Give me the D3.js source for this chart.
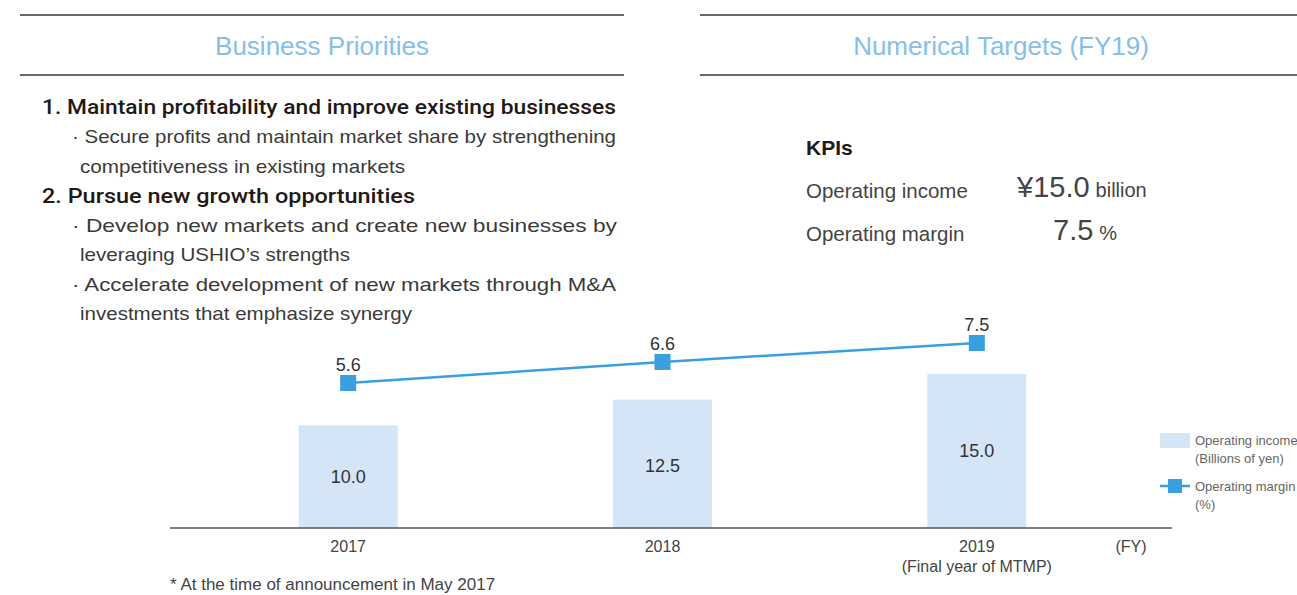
<!DOCTYPE html>
<html>
<head>
<meta charset="utf-8">
<script src="https://cdn.jsdelivr.net/npm/d3@7"></script>
<style>
  html, body { margin: 0; padding: 0; background: #fff; }
  svg { display: block; font-family: "Liberation Sans", Arial, Helvetica, sans-serif; }
</style>
</head>
<body>
<svg id="chart" width="1297" height="595"></svg>
<script>
// ---- data ----
const years = ["2017", "2018", "2019"];
const yearNotes = ["", "", "(Final year of MTMP)"];
const operatingIncome = [10.0, 12.5, 15.0];   // billions of yen
const operatingMargin = [5.6, 6.6, 7.5];      // %
const incomeLabels = ["10.0", "12.5", "15.0"];
const marginLabels = ["5.6", "6.6", "7.5"];

const sectionTitles = ["Business Priorities", "Numerical Targets (FY19)"];
const priorityLines = [
  "1. Maintain profitability and improve existing businesses",
  "\u00B7 Secure profits and maintain market share by strengthening",
  "competitiveness in existing markets",
  "2. Pursue new growth opportunities",
  "\u00B7 Develop new markets and create new businesses by",
  "leveraging USHIO\u2019s strengths",
  "\u00B7 Accelerate development of new markets through M&A",
  "investments that emphasize synergy"
];
const kpiNames = ["Operating income", "Operating margin"];
const kpiValues = ["\u00A515.0", "7.5"];
const kpiUnits = ["billion", "%"];
const legendLabels = [["Operating income", "(Billions of yen)"], ["Operating margin", "(%)"]];
const footnote = "* At the time of announcement in May 2017";
const axisUnit = "(FY)";

// ---- styles ----
const barColor = "#d3e5f6";
const lineColor = "#3a9fdf";
const titleColor = "#86c0ea";
const textDark = "#231815";
const textBody = "#3a3a3a";

const svg = d3.select("#chart");

// ---- section headers ----
const headers = [
  {x1: 20, x2: 624, cx: 322},
  {x1: 700, x2: 1297, cx: 1001}
];
headers.forEach((h, i) => {
  [15, 75].forEach(y => {
    svg.append("line").attr("x1", h.x1).attr("x2", h.x2).attr("y1", y).attr("y2", y)
      .attr("stroke", "#3b3533").attr("stroke-width", 1.6);
  });
  svg.append("text").attr("x", h.cx).attr("y", 46).attr("dy", "0.35em")
    .attr("text-anchor", "middle").attr("font-size", 26).attr("fill", titleColor)
    .text(sectionTitles[i]);
});

// ---- business priorities text ----
const lineLayout = [
  {x: 42, cy: 107, len: 574, bold: true},
  {x: 72, cy: 137, len: 544},
  {x: 80, cy: 167, len: 325},
  {x: 42, cy: 196, len: 373, bold: true},
  {x: 72, cy: 226, len: 545},
  {x: 80, cy: 255, len: 270},
  {x: 72, cy: 285, len: 544},
  {x: 80, cy: 314, len: 332}
];
priorityLines.forEach((t, i) => {
  const L = lineLayout[i];
  svg.append("text").attr("x", L.x).attr("y", L.cy).attr("dy", "0.35em")
    .attr("font-family", L.bold ? "Roboto, 'Liberation Sans', Arial, sans-serif" : null)
    .attr("font-size", L.bold ? 20 : 18.5)
    .attr("font-weight", L.bold ? 500 : "normal")
    .attr("fill", L.bold ? textDark : textBody)
    .attr("textLength", L.len).attr("lengthAdjust", "spacingAndGlyphs")
    .text(t);
});

// ---- KPIs ----
svg.append("text").attr("x", 806).attr("y", 148).attr("dy", "0.35em")
  .attr("font-size", 21).attr("font-weight", "bold").attr("fill", textDark).text("KPIs");
const kpiRows = [
  {cy: 191, vx: 1017},
  {cy: 234, vx: 1053}
];
kpiNames.forEach((n, i) => {
  const r = kpiRows[i];
  svg.append("text").attr("x", 806).attr("y", r.cy).attr("dy", "0.35em")
    .attr("font-size", 20.5).attr("fill", "#444").text(n);
  const t = svg.append("text").attr("x", r.vx).attr("y", r.cy).attr("dy", "0.35em").attr("fill", "#444");
  t.append("tspan").attr("font-size", 29).text(kpiValues[i]);
  t.append("tspan").attr("font-size", 20).attr("dx", 6).text(kpiUnits[i]);
});

// ---- chart ----
const x = d3.scaleBand().domain(years).range([191, 1134]).paddingInner(0.685).paddingOuter(0.3425);
const yIncome = d3.scaleLinear().domain([0, 15]).range([528, 374]);
const yMargin = d3.scaleLinear().domain([5.6, 7.5]).range([383, 343]);
const cx = d => x(d) + x.bandwidth() / 2;

// bars
svg.selectAll("rect.bar").data(years).enter().append("rect").attr("class", "bar")
  .attr("x", d => x(d)).attr("width", x.bandwidth())
  .attr("y", (d, i) => yIncome(operatingIncome[i]))
  .attr("height", (d, i) => yIncome(0) - yIncome(operatingIncome[i]))
  .attr("fill", barColor);

svg.selectAll("text.barlab").data(years).enter().append("text").attr("class", "barlab")
  .attr("x", d => cx(d))
  .attr("y", (d, i) => (yIncome(0) + yIncome(operatingIncome[i])) / 2 + (i === 1 ? 2 : 0))
  .attr("dy", "0.35em").attr("text-anchor", "middle").attr("font-size", 18).attr("fill", "#333")
  .text((d, i) => incomeLabels[i]);

// axis
const axis = d3.axisBottom(x).tickSize(0).tickPadding(0).tickFormat(() => "");
const gAxis = svg.append("g").attr("transform", `translate(0,${yIncome(0)})`).call(axis);
gAxis.select(".domain").remove();
svg.append("line").attr("x1", 170).attr("x2", 1172).attr("y1", yIncome(0)).attr("y2", yIncome(0))
  .attr("stroke", "#555").attr("stroke-width", 1.6);
gAxis.selectAll(".tick").each(function(d, i) {
  const g = d3.select(this);
  g.append("text").attr("y", 18).attr("dy", "0.35em").attr("text-anchor", "middle")
    .attr("font-size", 16).attr("fill", "#444").text(d);
  if (yearNotes[i]) {
    g.append("text").attr("y", 38).attr("dy", "0.35em").attr("text-anchor", "middle")
      .attr("font-size", 16).attr("fill", "#444").text(yearNotes[i]);
  }
});
svg.append("text").attr("x", 1131).attr("y", yIncome(0) + 18).attr("dy", "0.35em")
  .attr("text-anchor", "middle").attr("font-size", 16).attr("fill", "#444").text(axisUnit);

// line
const line = d3.line().x((d, i) => cx(years[i])).y(d => yMargin(d));
svg.append("path").datum(operatingMargin).attr("d", line)
  .attr("fill", "none").attr("stroke", lineColor).attr("stroke-width", 2.5);
const ms = 16;
svg.selectAll("rect.mk").data(operatingMargin).enter().append("rect").attr("class", "mk")
  .attr("x", (d, i) => cx(years[i]) - ms / 2).attr("y", d => yMargin(d) - ms / 2)
  .attr("width", ms).attr("height", ms).attr("fill", lineColor);
svg.selectAll("text.mlab").data(operatingMargin).enter().append("text").attr("class", "mlab")
  .attr("x", (d, i) => cx(years[i])).attr("y", d => yMargin(d) - 18).attr("dy", "0.35em")
  .attr("text-anchor", "middle").attr("font-size", 18).attr("fill", "#333")
  .text((d, i) => marginLabels[i]);

// legend
const lg = svg.append("g").attr("transform", "translate(1160,0)");
lg.append("rect").attr("x", 0).attr("y", 433).attr("width", 30).attr("height", 15).attr("fill", barColor);
lg.append("line").attr("x1", 0).attr("x2", 30).attr("y1", 486).attr("y2", 486)
  .attr("stroke", lineColor).attr("stroke-width", 2.5);
lg.append("rect").attr("x", 8).attr("y", 479).attr("width", 14).attr("height", 14).attr("fill", lineColor);
const legendY = [[440, 458], [486, 504]];
legendLabels.forEach((pair, i) => {
  pair.forEach((t, j) => {
    lg.append("text").attr("x", 35).attr("y", legendY[i][j]).attr("dy", "0.35em")
      .attr("font-size", 13).attr("fill", "#666").text(t);
  });
});

// footnote
svg.append("text").attr("x", 170).attr("y", 584).attr("dy", "0.35em")
  .attr("font-size", 17).attr("fill", "#444").text(footnote);
</script>
</body>
</html>
